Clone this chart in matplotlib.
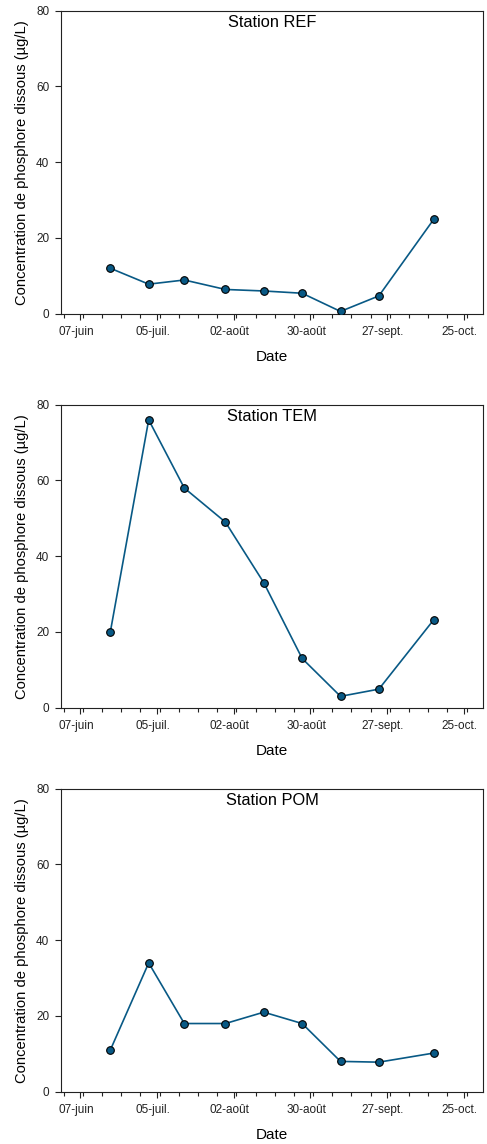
import datetime as dt
import matplotlib
matplotlib.use('Agg')
import matplotlib.pyplot as plt
import matplotlib.dates as mdates
import matplotlib.transforms as mtransforms

plt.rcParams.update({'font.family': ['Liberation Sans', 'DejaVu Sans'], 'font.size': 8})

# sampling dates (same for every station)
dates = [dt.date(2021, 6, 18), dt.date(2021, 7, 2), dt.date(2021, 7, 15),
         dt.date(2021, 7, 30), dt.date(2021, 8, 13), dt.date(2021, 8, 27),
         dt.date(2021, 9, 10), dt.date(2021, 9, 24), dt.date(2021, 10, 14)]

ref = [12.0, 7.8, 8.9, 6.4, 6.0, 5.4, 0.6, 4.7, 24.9]
tem = [20.0, 76.0, 58.0, 49.0, 33.0, 13.0, 3.0, 4.9, 23.2]
pom = [11.0, 34.0, 18.0, 18.0, 21.0, 18.0, 8.0, 7.8, 10.2]

stations = ['Station REF', 'Station TEM', 'Station POM']

tick_dates = [dt.date(2021, 6, 7), dt.date(2021, 7, 5), dt.date(2021, 8, 2),
              dt.date(2021, 8, 30), dt.date(2021, 9, 27), dt.date(2021, 10, 25)]
tick_labels = ['07-juin', '05-juil.', '02-août', '30-août', '27-sept.', '25-oct.']

line_col = '#085985'

fig = plt.figure(figsize=(4.87, 11.44), dpi=100)
H = 1144.0
W = 487.0
panels = [(10.7, 313.7), (404.7, 707.7), (788.7, 1091.7)]

for (top, bot), name, vals in zip(panels, stations, [ref, tem, pom]):
    ax = fig.add_axes([61 / W, 1 - bot / H, (483 - 61) / W, (bot - top) / H])
    ax.plot(dates, vals, color=line_col, lw=1.2, marker='o', ms=5.5,
            mfc=line_col, mec='black', mew=0.8, zorder=3)
    ax.set_xlim(dt.date(2021, 5, 31), dt.date(2021, 11, 1))
    ax.set_ylim(0, 80)
    ax.set_yticks([0, 20, 40, 60, 80])
    ax.set_xticks(tick_dates)
    ax.set_xticklabels(tick_labels)
    ax.xaxis.set_minor_locator(mdates.WeekdayLocator(byweekday=mdates.TU))
    ax.tick_params(axis='both', which='major', direction='out', length=4.5,
                   width=0.8, labelsize=8.5, pad=4, colors='#222222')
    ax.tick_params(axis='x', which='minor', direction='out', length=3, width=0.8,
                   colors='#222222')
    off = mtransforms.ScaledTranslation(-4 / 100, 0, fig.dpi_scale_trans)
    for lab in ax.get_xticklabels():
        lab.set_transform(lab.get_transform() + off)
    for sp in ax.spines.values():
        sp.set_linewidth(0.8)
        sp.set_color('#222222')
    ax.set_xlabel('Date', fontsize=11, labelpad=9)
    ax.set_ylabel('Concentration de phosphore dissous (µg/L)', fontsize=10.6, labelpad=5)
    ax.text(0.5, 0.985, name, transform=ax.transAxes, ha='center', va='top', fontsize=11.8)

fig.savefig('out.png', dpi=100)
